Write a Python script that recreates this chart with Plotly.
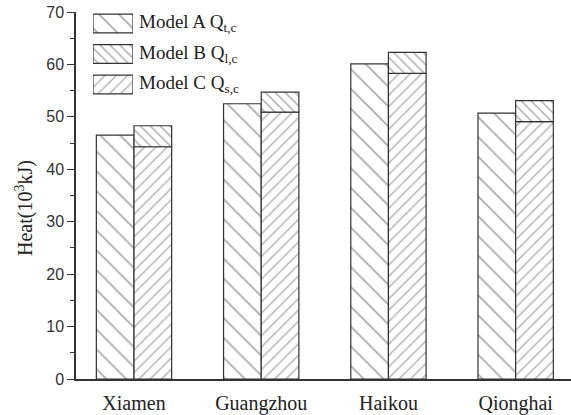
import plotly.graph_objects as go

# Heat demand per city (10^3 kJ)
cities = ["Xiamen", "Guangzhou", "Haikou", "Qionghai"]
model_a = [46.5, 52.5, 60.1, 50.7]   # Model A Q_t,c
model_c = [44.3, 50.9, 58.3, 49.1]   # Model C Q_s,c (lower part of stacked bar)
model_b = [4.0, 3.8, 4.0, 4.0]       # Model B Q_l,c (upper part of stacked bar)

legend_labels = ["Model A Q<sub>t,c</sub>", "Model B Q<sub>l,c</sub>", "Model C Q<sub>s,c</sub>"]

W, H = 571, 415
BAR_W = 0.296
LINE = dict(color="#333333", width=1.2)

pat_a = dict(shape="\\", size=14, solidity=0.12, fgcolor="#555555", bgcolor="white")
pat_b = dict(shape="\\", size=7, solidity=0.2, fgcolor="#555555", bgcolor="white")
pat_c = dict(shape="/", size=8, solidity=0.18, fgcolor="#666666", bgcolor="white")

xpos = list(range(len(cities)))
left_x = [i - BAR_W / 2 for i in xpos]
right_x = [i + BAR_W / 2 for i in xpos]

fig = go.Figure()
fig.add_trace(go.Bar(x=left_x, y=model_a, width=BAR_W, name="Model A",
                     marker=dict(color="white", line=LINE, pattern=pat_a), showlegend=False))
fig.add_trace(go.Bar(x=right_x, y=model_c, width=BAR_W, name="Model C",
                     marker=dict(color="white", line=LINE, pattern=pat_c), showlegend=False))
fig.add_trace(go.Bar(x=right_x, y=model_b, base=model_c, width=BAR_W, name="Model B",
                     marker=dict(color="white", line=LINE, pattern=pat_b), showlegend=False))

# Legend swatches drawn as horizontal bars on a small inset axis
rows = [2, 1, 0]
for row, pat in zip(rows, [pat_a, pat_b, pat_c]):
    fig.add_trace(go.Bar(x=[1], y=[row], base=0, width=0.62, orientation="h",
                         xaxis="x2", yaxis="y2", showlegend=False, hoverinfo="skip",
                         marker=dict(color="white", line=LINE, pattern=pat)))

leg_top, leg_bot = 8.25, 99.75
row_px = (leg_bot - leg_top) / 3
annotations = []
for k, (row, lab) in enumerate(zip(rows, legend_labels)):
    yc = leg_top + row_px * (k + 0.5)
    annotations.append(dict(x=137 / W, y=1 - yc / H, xref="paper", yref="paper",
                            text=lab, showarrow=False, xanchor="left", yanchor="middle",
                            font=dict(family="Liberation Serif", size=19, color="#222222")))

annotations.append(dict(x=24 / W, y=1 - 208 / H, xref="paper", yref="paper",
                        xanchor="center", yanchor="middle",
                        text="Heat(10<sup>3</sup>kJ)", textangle=-90, showarrow=False,
                        font=dict(family="Liberation Serif", size=20, color="#222222")))

fig.update_layout(
    width=W, height=H,
    margin=dict(l=0, r=0, t=0, b=0),
    paper_bgcolor="white", plot_bgcolor="white",
    barmode="overlay",
    annotations=annotations,
    xaxis=dict(domain=[76 / W, 1], range=[-0.456, 3.435],
               tickvals=xpos, ticktext=cities, ticks="",
               showline=True, linecolor="#333333", linewidth=1.5,
               showgrid=False, zeroline=False, automargin=False,
               ticklabelstandoff=5,
               tickfont=dict(family="Liberation Serif", size=20, color="#222222")),
    yaxis=dict(domain=[(H - 379) / H, (H - 12) / H], range=[0, 70], dtick=10,
               ticks="outside", ticklen=7, tickwidth=1.3, tickcolor="#333333",
               minor=dict(dtick=5, ticks="outside", ticklen=4, tickcolor="#333333", tickwidth=1.2),
               showline=True, linecolor="#333333", linewidth=1.5,
               showgrid=False, zeroline=False, automargin=False,
               tickfont=dict(family="Liberation Sans", size=16, color="#333333")),
    xaxis2=dict(domain=[93 / W, 133 / W], range=[0, 1], anchor="y2",
                visible=False, fixedrange=True),
    yaxis2=dict(domain=[1 - leg_bot / H, 1 - leg_top / H], range=[-0.5, 2.5], anchor="x2",
                visible=False, fixedrange=True),
)

fig.write_html("out.html")
